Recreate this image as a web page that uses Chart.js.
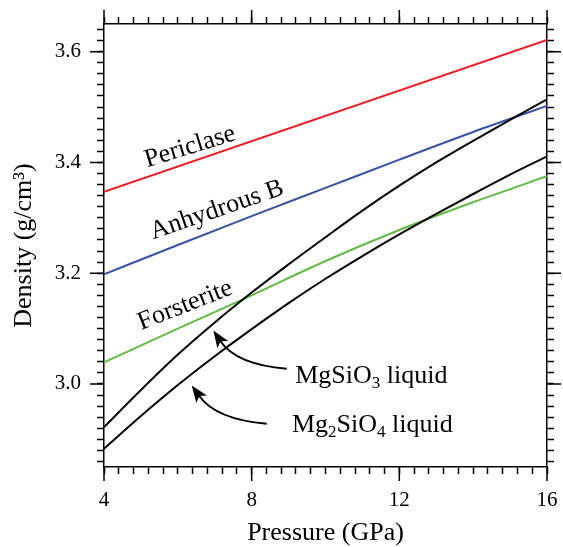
<!DOCTYPE html>
<html>
<head>
<meta charset="utf-8">
<script src="https://cdn.jsdelivr.net/npm/chart.js@4.4.0/dist/chart.umd.min.js"></script>
<style>
  html, body { margin: 0; padding: 0; background: #fff; }
</style>
</head>
<body>
<canvas id="chart" width="563" height="547"></canvas>
<script>
// pressure (GPa) and density (g/cm3)
const pressure = [4, 5, 6, 7, 8, 9, 10, 11, 12, 13, 14, 15, 16];
const mgsio3Liquid = [2.922, 2.989, 3.053, 3.111, 3.165, 3.216, 3.265, 3.313, 3.358, 3.400, 3.439, 3.477, 3.514];
const mg2sio4Liquid = [2.883, 2.942, 2.998, 3.050, 3.099, 3.146, 3.190, 3.231, 3.270, 3.307, 3.343, 3.378, 3.411];

const pressureCoarse = [4, 6, 8, 10, 12, 14, 16];
const forsterite = [3.039, 3.100, 3.160, 3.222, 3.278, 3.328, 3.375];
const anhydrousB = [3.198, 3.251, 3.303, 3.354, 3.405, 3.455, 3.502];

const periclasePressure = [4, 16];
const periclase = [3.347, 3.621];

const xMajorTicks = [4, 8, 12, 16];
const yMajorTicks = [3.0, 3.2, 3.4, 3.6];
const xMinorStep = 0.4;
const yMinorStep = 0.02;

const FONT = "'Liberation Serif', 'Times New Roman', serif";

function toPoints(xs, ys) {
  return xs.map((x, i) => ({ x: x, y: ys[i] }));
}

function isMajor(v, majors) {
  return majors.some(m => Math.abs(m - v) < 1e-6);
}

const xTickValues = [];
for (let i = 0; i <= 30; i++) xTickValues.push(+(4 + i * xMinorStep).toFixed(2));
const yTickValues = [];
for (let i = 0; i <= 39; i++) yTickValues.push(+(2.86 + i * yMinorStep).toFixed(2));

// labels drawn on the plot, positioned in data units
const lineLabels = [
  { text: 'Periclase', x: 6.33, y: 3.428, angle: 17 },
  { text: 'Anhydrous B', x: 7.06, y: 3.314, angle: 19 },
  { text: 'Forsterite', x: 6.2, y: 3.142, angle: 21.5 }
];
const liquidLabels = [
  { parts: [['MgSiO', false], ['3', true], [' liquid', false]], x: 9.18, y: 3.001,
    arrow: { from: [8.95, 3.0275], ctrl: [7.577, 3.0353], to: [6.962, 3.0967] } },
  { parts: [['Mg', false], ['2', true], ['SiO', false], ['4', true], [' liquid', false]], x: 9.09, y: 2.913,
    arrow: { from: [8.409, 2.928], ctrl: [7.035, 2.9358], to: [6.377, 2.9973] } }
];

const majorTicksPlugin = {
  id: 'majorTicks',
  afterDraw(chart) {
    const ctx = chart.ctx;
    const area = chart.chartArea;
    const len = 14;
    ctx.save();
    ctx.strokeStyle = '#000';
    ctx.lineWidth = 1.5;
    ctx.beginPath();
    xMajorTicks.forEach(v => {
      const px = chart.scales.x.getPixelForValue(v);
      ctx.moveTo(px, area.bottom); ctx.lineTo(px, area.bottom + len);
      ctx.moveTo(px, area.top); ctx.lineTo(px, area.top - len);
    });
    yMajorTicks.forEach(v => {
      const py = chart.scales.y.getPixelForValue(v);
      ctx.moveTo(area.left, py); ctx.lineTo(area.left - len, py);
      ctx.moveTo(area.right, py); ctx.lineTo(area.right + len, py);
    });
    ctx.stroke();
    ctx.restore();
  }
};

const annotationPlugin = {
  id: 'annotations',
  afterDatasetsDraw(chart) {
    const ctx = chart.ctx;
    const xs = chart.scales.x;
    const ys = chart.scales.y;
    ctx.save();
    ctx.fillStyle = '#000';
    ctx.font = '26px ' + FONT;
    ctx.textAlign = 'center';
    ctx.textBaseline = 'middle';
    lineLabels.forEach(l => {
      ctx.save();
      ctx.translate(xs.getPixelForValue(l.x), ys.getPixelForValue(l.y));
      ctx.rotate(-l.angle * Math.PI / 180);
      ctx.fillText(l.text, 0, 0);
      ctx.restore();
    });

    ctx.textAlign = 'left';
    ctx.textBaseline = 'alphabetic';
    liquidLabels.forEach(l => {
      let px = xs.getPixelForValue(l.x);
      const py = ys.getPixelForValue(l.y);
      l.parts.forEach(([t, sub]) => {
        ctx.font = (sub ? '17px ' : '26px ') + FONT;
        ctx.fillText(t, px, sub ? py + 5 : py);
        px += ctx.measureText(t).width;
      });

      const a = l.arrow;
      const p0 = [xs.getPixelForValue(a.from[0]), ys.getPixelForValue(a.from[1])];
      const c = [xs.getPixelForValue(a.ctrl[0]), ys.getPixelForValue(a.ctrl[1])];
      const p1 = [xs.getPixelForValue(a.to[0]), ys.getPixelForValue(a.to[1])];
      const dx = p1[0] - c[0], dy = p1[1] - c[1];
      const d = Math.hypot(dx, dy);
      const ux = dx / d, uy = dy / d;
      const headLen = 17, headW = 6.5;
      const bx = p1[0] - ux * headLen, by = p1[1] - uy * headLen;
      ctx.strokeStyle = '#000';
      ctx.lineWidth = 2;
      ctx.beginPath();
      ctx.moveTo(p0[0], p0[1]);
      ctx.quadraticCurveTo(c[0], c[1], bx + ux * 4, by + uy * 4);
      ctx.stroke();
      ctx.beginPath();
      ctx.moveTo(p1[0], p1[1]);
      ctx.lineTo(bx - uy * headW, by + ux * headW);
      ctx.lineTo(bx + ux * 4, by + uy * 4);
      ctx.lineTo(bx + uy * headW, by - ux * headW);
      ctx.closePath();
      ctx.fill();
    });
    ctx.restore();
  }
};

function axisGrid() {
  return { drawOnChartArea: false, drawTicks: true, tickLength: 7, tickWidth: 1.5, tickColor: '#000' };
}
const axisBorder = { display: true, color: '#000', width: 1.5 };

// fix the box sizes so the plot frame lands where it is in the figure
function fixSize(prop, size) {
  return s => {
    s[prop] = size;
    s.paddingLeft = s.paddingRight = s.paddingTop = s.paddingBottom = 0;
  };
}

new Chart(document.getElementById('chart'), {
  type: 'line',
  data: {
    datasets: [
      {
        label: 'MgSiO3 liquid',
        data: toPoints(pressure, mgsio3Liquid),
        borderColor: '#000',
        borderWidth: 2,
        cubicInterpolationMode: 'monotone'
      },
      {
        label: 'Mg2SiO4 liquid',
        data: toPoints(pressure, mg2sio4Liquid),
        borderColor: '#000',
        borderWidth: 2,
        cubicInterpolationMode: 'monotone'
      },
      {
        label: 'Periclase',
        data: toPoints(periclasePressure, periclase),
        borderColor: '#ec1c24',
        borderWidth: 2
      },
      {
        label: 'Anhydrous B',
        data: toPoints(pressureCoarse, anhydrousB),
        borderColor: '#3953a4',
        borderWidth: 2,
        cubicInterpolationMode: 'monotone'
      },
      {
        label: 'Forsterite',
        data: toPoints(pressureCoarse, forsterite),
        borderColor: '#62bb46',
        borderWidth: 2,
        cubicInterpolationMode: 'monotone'
      }
    ]
  },
  options: {
    responsive: false,
    animation: false,
    devicePixelRatio: 1,
    layout: { padding: 0 },
    elements: { point: { radius: 0 } },
    plugins: {
      legend: { display: false },
      tooltip: { enabled: false }
    },
    scales: {
      x: {
        type: 'linear',
        position: 'bottom',
        min: 4,
        max: 16,
        afterBuildTicks: s => { s.ticks = xTickValues.map(v => ({ value: v })); },
        afterFit: fixSize('height', 80),
        grid: axisGrid(),
        border: axisBorder,
        ticks: {
          autoSkip: false,
          maxRotation: 0,
          padding: 14,
          color: '#000',
          font: { family: FONT, size: 21 },
          callback: v => isMajor(v, xMajorTicks) ? String(Math.round(v)) : ''
        },
        title: {
          display: true,
          text: 'Pressure (GPa)',
          color: '#000',
          font: { family: FONT, size: 26, lineHeight: 1 },
          padding: { top: 0, bottom: 1 }
        }
      },
      x2: {
        type: 'linear',
        position: 'top',
        min: 4,
        max: 16,
        afterBuildTicks: s => { s.ticks = xTickValues.map(v => ({ value: v })); },
        afterFit: fixSize('height', 24),
        grid: axisGrid(),
        border: axisBorder,
        ticks: { display: false }
      },
      y: {
        type: 'linear',
        position: 'left',
        min: 2.85,
        max: 3.65,
        afterBuildTicks: s => { s.ticks = yTickValues.map(v => ({ value: v })); },
        afterFit: fixSize('width', 104),
        grid: axisGrid(),
        border: axisBorder,
        ticks: {
          autoSkip: false,
          padding: 16,
          color: '#000',
          font: { family: FONT, size: 21 },
          callback: v => isMajor(v, yMajorTicks) ? v.toFixed(1) : ''
        },
        title: {
          display: true,
          text: 'Density (g/cm³)',
          color: '#000',
          font: { family: FONT, size: 26, lineHeight: 1 },
          padding: { top: 11, bottom: 0 }
        }
      },
      y2: {
        type: 'linear',
        position: 'right',
        min: 2.85,
        max: 3.65,
        afterBuildTicks: s => { s.ticks = yTickValues.map(v => ({ value: v })); },
        afterFit: fixSize('width', 16),
        grid: axisGrid(),
        border: axisBorder,
        ticks: { display: false }
      }
    }
  },
  plugins: [majorTicksPlugin, annotationPlugin]
});
</script>
</body>
</html>
